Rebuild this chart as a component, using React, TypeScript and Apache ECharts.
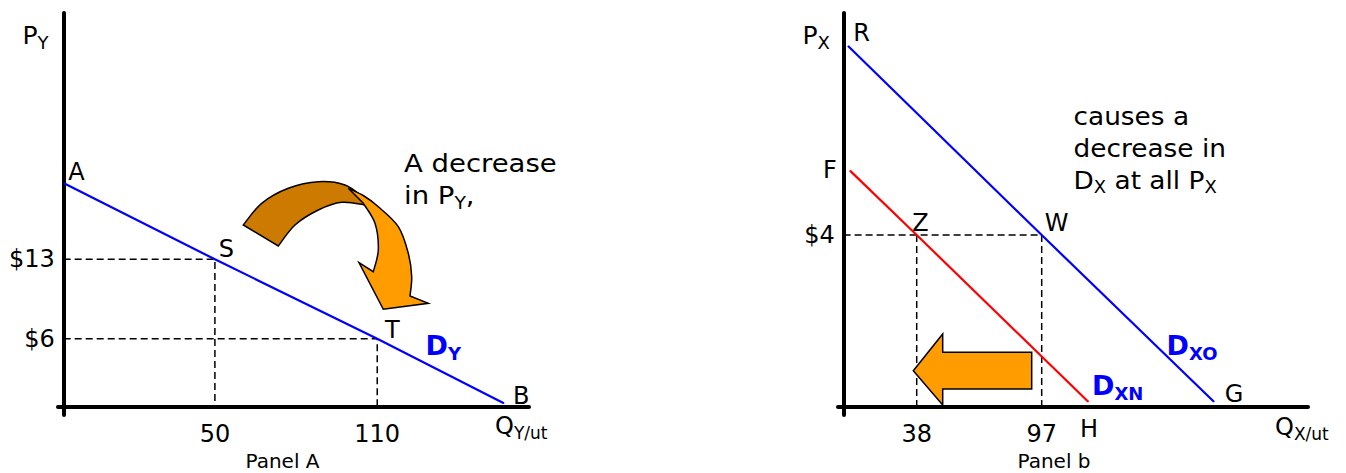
import React, { useEffect, useRef } from 'react';
import * as echarts from 'echarts';

// ---------- Panel A (market for Y) ----------
const panelAQ = [-5.8, 50, 110, 156.8];
const panelAP = [19.7, 13, 6, 0.3];
const panelANames = ['A', 'S', 'T', 'B'];
const panelAXTicks = [50, 110];
const panelAYTicks = [6, 13];
const panelAQRange = [-8, 166.1];
const panelAPRange = [-0.73, 34.72];
const panelAQOrigin = -5.9;

// ---------- Panel b (market for X) ----------
const dxOldQ = [5.6, 97, 178.3];
const dxOldP = [8.4, 4, 0.12];
const dxOldNames = ['R', 'W', 'G'];
const dxNewQ = [6.5, 38, 119];
const dxNewP = [5.5, 4, 0.12];
const dxNewNames = ['F', 'Z', 'H'];
const panelBXTicks = [38, 97];
const panelBYTicks = [4];
const panelBQRange = [0.85, 222.7];
const panelBPRange = [-0.19, 9.17];
const panelBQOrigin = 3.5;

const FONT = 'Verdana, "DejaVu Sans", sans-serif';

// label offsets (pixels) from the point to the centre of its letter
const letterOffsets: Record<string, [number, number]> = {
  A: [12.5, -13], S: [11.5, -12.3], T: [15, -9.7], B: [17.5, -9.3],
  R: [13.5, -14.7], W: [14.8, -13.5], G: [20, -9],
  F: [-20, -1.7], Z: [3.8, -13.5], H: [0.7, 25.8],
};

type Pt = [number, number];
function catmull(pts: Pt[]): string {
  let s = '';
  for (let i = 0; i < pts.length - 1; i++) {
    const p0 = pts[i - 1] || pts[i];
    const p1 = pts[i];
    const p2 = pts[i + 1];
    const p3 = pts[i + 2] || pts[i + 1];
    const c1 = [p1[0] + (p2[0] - p0[0]) / 6, p1[1] + (p2[1] - p0[1]) / 6];
    const c2 = [p2[0] - (p3[0] - p1[0]) / 6, p2[1] - (p3[1] - p1[1]) / 6];
    s += ` C${c1[0].toFixed(2)},${c1[1].toFixed(2)} ${c2[0].toFixed(2)},${c2[1].toFixed(2)} ${p2[0]},${p2[1]}`;
  }
  return s;
}

const darkOuter: Pt[] = [[243.3, 225], [261.7, 203.3], [288.3, 188.3], [318.3, 181.7], [345, 185], [364, 198]];
const darkInner: Pt[] = [[366, 205], [341.7, 202.3], [318.3, 210], [295, 225], [278.3, 246]];
const darkPath = `M${darkOuter[0][0]},${darkOuter[0][1]}` + catmull(darkOuter) + ` L${darkInner[0][0]},${darkInner[0][1]}` + catmull(darkInner) + ' Z';

const lightOuter: Pt[] = [[348.3, 188.3], [364, 196], [378.3, 206.7], [398.3, 226.7], [408.3, 253.3], [411.7, 276.7], [410, 296]];
const lightInner: Pt[] = [[373.3, 271.7], [378.3, 250], [375, 223.3], [363.3, 203.3]];
const lightPath = `M${lightOuter[0][0]},${lightOuter[0][1]}` + catmull(lightOuter) +
  ' L428.3,303.3 L383.3,309.3 L359,262.7 L373.3,271.7' + catmull(lightInner) + ' Z';

echarts.graphic.registerShape('curveArrowDark', echarts.graphic.extendPath(darkPath, {}));
echarts.graphic.registerShape('curveArrowLight', echarts.graphic.extendPath(lightPath, {}));

function subText(x: number, baseline: number, content: string, fs: number, subFs: number, drop: number,
  color: string, bold: boolean, lh?: number, scaleX = 1) {
  const L = lh ?? Math.round(fs * 1.25);
  const h = L - 0.6 * fs + 0.6 * subFs - 2 * drop;
  const weight = bold ? 'bold' : 'normal';
  return {
    type: 'text', x, y: baseline - (L / 2 + 0.3 * fs), z: 20, silent: true, scaleX,
    style: {
      text: content, fill: color, fontSize: fs, fontFamily: FONT, fontWeight: weight, lineHeight: L,
      align: 'left', verticalAlign: 'top',
      rich: {
        s: { fontSize: subFs, fontFamily: FONT, fontWeight: weight, fill: color, lineHeight: h, verticalAlign: 'bottom' },
      },
    },
  };
}

function pointData(qs: number[], ps: number[], names: string[]) {
  return qs.map((q, i) => {
    const off = letterOffsets[names[i]];
    return {
      value: [q, ps[i]],
      label: {
        show: true, formatter: names[i], position: [off[0] + 0.5, off[1] + 2],
        align: 'center', verticalAlign: 'middle', fontSize: 24, color: '#000', fontFamily: FONT,
      },
    };
  });
}

const axisLine = { show: true, lineStyle: { color: '#000', width: 4 } };
const tickLabel = { fontSize: 24, color: '#000', fontFamily: FONT };
const dashStyle = { color: '#000', width: 1.5, type: [7, 4] as number[] };

function dashed(xi: number, data: number[][]) {
  return {
    type: 'line', xAxisIndex: xi, yAxisIndex: xi, data, symbol: 'none', silent: true, z: 1,
    lineStyle: dashStyle,
  };
}

function demand(xi: number, data: any[], color: string) {
  return {
    type: 'line', xAxisIndex: xi, yAxisIndex: xi, data, symbol: 'circle', symbolSize: 1, showSymbol: true,
    silent: true, z: 3, itemStyle: { color }, lineStyle: { color, width: 2.2 },
  };
}

function caption(x: number, text: string) {
  return {
    type: 'text', x, y: 460.5, z: 20, silent: true,
    style: { text, fill: '#000', fontSize: 20, lineHeight: 18, fontFamily: FONT, align: 'center', verticalAlign: 'middle' },
  };
}

export default function App() {
  const ref = useRef<HTMLDivElement>(null);
  useEffect(() => {
    if (!ref.current) return;
    const chart = echarts.init(ref.current, null, { renderer: 'svg' });
    const option: any = {
      animation: false,
      backgroundColor: '#fff',
      grid: [
        { left: 58, top: 13, width: 471, height: 402 },
        { left: 838, top: 13, width: 470, height: 402 },
      ],
      xAxis: [
        {
          gridIndex: 0, type: 'value', min: panelAQRange[0], max: panelAQRange[1],
          axisLine: { ...axisLine, onZero: true }, axisTick: { show: false }, splitLine: { show: false },
          axisLabel: { ...tickLabel, customValues: panelAXTicks, margin: 7 },
        },
        {
          gridIndex: 1, type: 'value', min: panelBQRange[0], max: panelBQRange[1],
          axisLine: { ...axisLine, onZero: true }, axisTick: { show: false }, splitLine: { show: false },
          axisLabel: { ...tickLabel, customValues: panelBXTicks, margin: 7 },
        },
      ],
      yAxis: [
        {
          gridIndex: 0, type: 'value', min: panelAPRange[0], max: panelAPRange[1], offset: -5.7,
          axisLine: { ...axisLine, onZero: false }, axisTick: { show: false }, splitLine: { show: false },
          axisLabel: { ...tickLabel, customValues: panelAYTicks, formatter: '${value}', margin: 9 },
        },
        {
          gridIndex: 1, type: 'value', min: panelBPRange[0], max: panelBPRange[1], offset: -5.7,
          axisLine: { ...axisLine, onZero: false }, axisTick: { show: false }, splitLine: { show: false },
          axisLabel: { ...tickLabel, customValues: panelBYTicks, formatter: '${value}', margin: 9 },
        },
      ],
      series: [
        dashed(0, [[panelAQOrigin, panelAP[1]], [panelAQ[1], panelAP[1]], [panelAQ[1], 0]]),
        dashed(0, [[panelAQOrigin, panelAP[2]], [panelAQ[2], panelAP[2]], [panelAQ[2], 0]]),
        demand(0, pointData(panelAQ, panelAP, panelANames), '#0000ff'),
        dashed(1, [[panelBQOrigin, dxOldP[1]], [dxOldQ[1], dxOldP[1]], [dxOldQ[1], 0]]),
        dashed(1, [[dxNewQ[1], dxNewP[1]], [dxNewQ[1], 0]]),
        demand(1, pointData(dxOldQ, dxOldP, dxOldNames), '#0000ff'),
        demand(1, pointData(dxNewQ, dxNewP, dxNewNames), '#ff0000'),
      ],
      graphic: [
        { type: 'curveArrowDark', z: 30, silent: true, style: { fill: '#cc7a00', stroke: '#000', lineWidth: 1.5 } },
        { type: 'curveArrowLight', z: 31, silent: true, style: { fill: '#ff9c00', stroke: '#000', lineWidth: 1.5 } },
        {
          type: 'polygon', z: 30, silent: true,
          shape: { points: [[913.3, 370.7], [942.7, 334], [942.7, 352.3], [1031.7, 352.3], [1031.7, 389], [942.7, 389], [942.7, 405]] },
          style: { fill: '#ff9c00', stroke: '#000', lineWidth: 1.5 },
        },
        subText(22.5, 43.3, 'P{s|Y}', 25, 18, 5, '#000', false),
        subText(495, 433.5, 'Q{s|Y/ut}', 24, 17, 4, '#000', false),
        subText(802.5, 43.3, 'P{s|X}', 25, 18, 5, '#000', false),
        subText(1275, 434.5, 'Q{s|X/ut}', 24, 17, 4, '#000', false),
        subText(425.5, 353.3, 'D{s|Y}', 27, 18, 3.4, '#0000ff', true),
        subText(1166.6, 353.3, 'D{s|XO}', 27, 18, 3.4, '#0000ff', true),
        subText(1092, 393.3, 'D{s|XN}', 27, 18, 3.4, '#0000ff', true),
        subText(404, 171, 'A decrease\nin P{s|Y},', 25, 17, 4, '#000', false, 32, 1.1),
        subText(1073.5, 123.3, 'causes a\ndecrease in\nD{s|X} at all P{s|X}', 25, 17, 4, '#000', false, 32, 1.055),
        caption(282.5, 'Panel A'),
        caption(1054, 'Panel b'),
      ],
    };
    chart.setOption(option);
    return () => chart.dispose();
  }, []);
  return (
    <div
      ref={ref}
      style={{ position: 'fixed', left: 0, top: 0, width: 1346, height: 473, background: '#fff' }}
    />
  );
}
